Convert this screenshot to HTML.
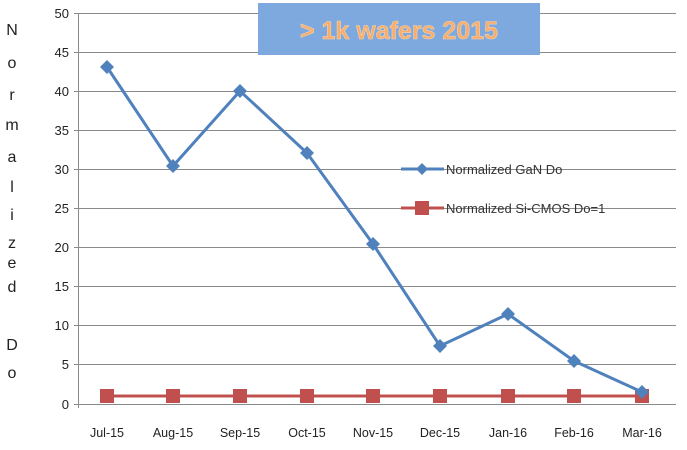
<!DOCTYPE html><html><head><style>body{margin:0;background:#fff}</style></head><body>
<svg width="687" height="445" xmlns="http://www.w3.org/2000/svg" font-family="Liberation Sans, sans-serif">
<g stroke="#8a8a8a" stroke-width="1">
<line x1="74" y1="13.5" x2="676" y2="13.5"/><line x1="74" y1="52.5" x2="676" y2="52.5"/><line x1="74" y1="91.5" x2="676" y2="91.5"/><line x1="74" y1="130.5" x2="676" y2="130.5"/><line x1="74" y1="169.5" x2="676" y2="169.5"/><line x1="74" y1="208.5" x2="676" y2="208.5"/><line x1="74" y1="247.5" x2="676" y2="247.5"/><line x1="74" y1="286.5" x2="676" y2="286.5"/><line x1="74" y1="325.5" x2="676" y2="325.5"/><line x1="74" y1="364.5" x2="676" y2="364.5"/><line x1="74" y1="404.5" x2="676" y2="404.5"/>
<line x1="78.5" y1="13" x2="78.5" y2="408"/>
</g>
<g font-size="13" fill="#222" text-anchor="end">
<text x="69" y="18">50</text><text x="69" y="57">45</text><text x="69" y="96">40</text><text x="69" y="135">35</text><text x="69" y="174">30</text><text x="69" y="213">25</text><text x="69" y="252">20</text><text x="69" y="291">15</text><text x="69" y="330">10</text><text x="69" y="369">5</text><text x="69" y="409">0</text>
</g>
<g font-size="16" fill="#222" text-anchor="middle">
<text x="12" y="35">N</text><text x="12" y="68">o</text><text x="12" y="100">r</text><text x="12" y="130">m</text><text x="12" y="162">a</text><text x="12" y="192">l</text><text x="12" y="220">i</text><text x="12" y="248">z</text><text x="12" y="268">e</text><text x="12" y="292">d</text><text x="12" y="350">D</text><text x="12" y="378">o</text>
</g>
<g font-size="12.5" fill="#222" text-anchor="middle">
<text x="107" y="437">Jul-15</text><text x="173" y="437">Aug-15</text><text x="240" y="437">Sep-15</text><text x="307" y="437">Oct-15</text><text x="373" y="437">Nov-15</text><text x="440" y="437">Dec-15</text><text x="508" y="437">Jan-16</text><text x="574" y="437">Feb-16</text><text x="642" y="437">Mar-16</text>
</g>
<polyline fill="none" stroke="#c0504d" stroke-width="3" points="107,396 642,396"/>
<g fill="#c0504d">
<rect x="100" y="389" width="14" height="14"/><rect x="166" y="389" width="14" height="14"/><rect x="233" y="389" width="14" height="14"/><rect x="300" y="389" width="14" height="14"/><rect x="366" y="389" width="14" height="14"/><rect x="433" y="389" width="14" height="14"/><rect x="501" y="389" width="14" height="14"/><rect x="567" y="389" width="14" height="14"/><rect x="635" y="389" width="14" height="14"/>
</g>
<polyline fill="none" stroke="#4f81bd" stroke-width="3" points="107,67 173,166 240,91 307,153 373,244 440,346 508,314 574,361 642,392"/>
<g fill="#4f81bd">
<path d="M107 60l7 7-7 7-7-7z"/><path d="M173 159l7 7-7 7-7-7z"/><path d="M240 84l7 7-7 7-7-7z"/><path d="M307 146l7 7-7 7-7-7z"/><path d="M373 237l7 7-7 7-7-7z"/><path d="M440 339l7 7-7 7-7-7z"/><path d="M508 307l7 7-7 7-7-7z"/><path d="M574 354l7 7-7 7-7-7z"/><path d="M642 385l7 7-7 7-7-7z"/>
</g>
<line x1="401" y1="169" x2="444" y2="169" stroke="#4f81bd" stroke-width="3"/><path d="M422 163l6 6-6 6-6-6z" fill="#4f81bd"/>
<line x1="401" y1="208" x2="444" y2="208" stroke="#c0504d" stroke-width="3"/><rect x="415" y="201" width="14" height="14" fill="#c0504d"/>
<g font-size="13" fill="#333"><text x="446" y="174">Normalized GaN Do</text><text x="446" y="213">Normalized Si-CMOS Do=1</text></g>
<rect x="258" y="3" width="282" height="52" fill="#7ea9de"/>
<text x="399" y="39" text-anchor="middle" font-size="25" font-weight="bold" fill="#f6ad6e" stroke="#f9d2a8" stroke-width="0.6">&gt; 1k wafers 2015</text>
</svg>
</body></html>
